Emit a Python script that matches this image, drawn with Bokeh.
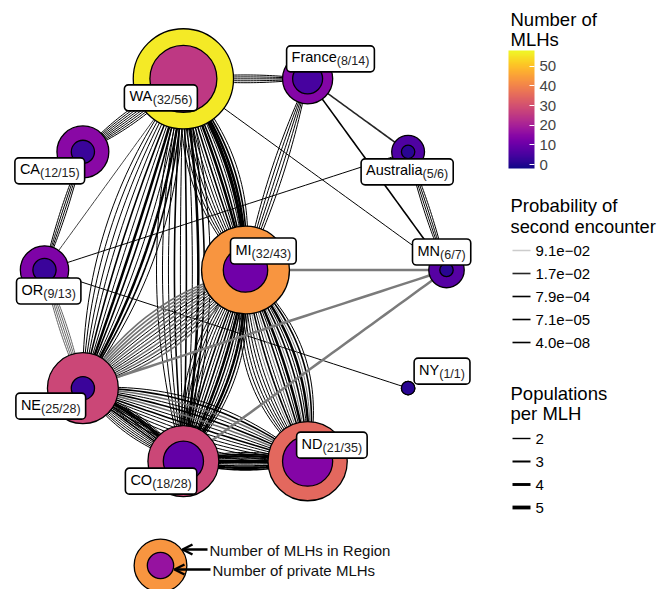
import numpy as np
from bokeh.plotting import figure
from bokeh.models import (Range1d, LinearColorMapper, ColorBar, FixedTicker,
                          Arrow, OpenHead, ColumnDataSource)
from bokeh.palettes import Plasma256
from bokeh.embed import file_html
from bokeh.resources import INLINE
from bokeh.core.properties import value

# ---------------- data ----------------
# first region is the hub, the rest sit on the ring (clockwise from east)
regions      = ["MI", "MN", "NY", "ND", "CO", "NE", "OR", "CA", "WA", "France", "Australia"]
label_shared = [32, 6, 1, 21, 18, 25, 9, 12, 32, 8, 5]
mlh_region   = [43, 7, 1, 35, 28, 28, 13, 15, 56, 14, 6]
mlh_private  = [11, 1, 1, 14, 9, 3, 3, 3, 25, 5, 1]

# edge groups: from, to, number of MLHs, populations per MLH, probability
edge_from = ["WA", "WA", "WA", "WA",
             "WA", "WA", "WA", "WA",
             "WA", "WA", "WA",
             "WA", "WA", "WA",
             "France", "France", "France", "Australia", "Australia",
             "CA", "OR", "OR",
             "MI", "MI", "MI",
             "MI", "MI", "MI", "MI",
             "NE", "NE", "NE",
             "NE", "NE", "NE",
             "CO", "CO", "CO",
             "MI", "MI", "NE", "CO", "MI"]
edge_to   = ["France", "CA", "OR", "MN",
             "MI", "MI", "MI", "MI",
             "CO", "CO", "CO",
             "NE", "NE", "NE",
             "MI", "Australia", "MN", "MN", "OR",
             "OR", "NE", "NY",
             "CO", "CO", "CO",
             "ND", "ND", "ND", "ND",
             "CO", "CO", "CO",
             "ND", "ND", "ND",
             "ND", "ND", "ND",
             "NE", "NE", "MN", "MN", "MN"]
edge_n    = [5, 8, 1, 1,
             10, 3, 2, 1,
             6, 3, 1,
             7, 3, 2,
             5, 1, 1, 4, 1,
             4, 5, 1,
             10, 4, 2,
             10, 4, 4, 2,
             8, 3, 1,
             9, 3, 2,
             3, 4, 3,
             9, 5, 1, 1, 1]
edge_pop  = [2, 2, 2, 2,
             2, 3, 4, 5,
             2, 3, 4,
             2, 3, 4,
             2, 3, 3, 2, 2,
             2, 2, 2,
             2, 3, 4,
             2, 3, 2, 4,
             2, 3, 4,
             2, 3, 3,
             2, 3, 4,
             3, 2, 4, 4, 4]
edge_prob = [7.9e-4, 7.1e-5, 3.0e-2, 7.9e-4,
             7.1e-5, 7.1e-5, 4.0e-8, 4.0e-8,
             7.1e-5, 7.1e-5, 4.0e-8,
             7.1e-5, 7.1e-5, 4.0e-8,
             7.9e-4, 1.7e-2, 7.9e-4, 7.9e-4, 7.9e-4,
             7.9e-4, 4.5e-2, 7.9e-4,
             7.1e-5, 7.1e-5, 4.0e-8,
             7.1e-5, 7.1e-5, 5.0e-2, 4.0e-8,
             7.1e-5, 7.1e-5, 4.0e-8,
             7.1e-5, 7.1e-5, 5.0e-2,
             7.1e-5, 7.1e-5, 4.0e-8,
             5.0e-2, 7.1e-5, 5.5e-2, 5.5e-2, 5.5e-2]

# legend values
cbar_ticks  = [0, 10, 20, 30, 40, 50]
prob_breaks = [9.1e-02, 1.7e-02, 7.9e-04, 7.1e-05, 4.0e-08]
prob_labels = ["9.1e\u221202", "1.7e\u221202", "7.9e\u221204", "7.1e\u221205", "4.0e\u221208"]
pop_breaks  = [2, 3, 4, 5]
key_region, key_private = 43, 17

# ---------------- layout / style ----------------
W, H = 663, 589
FONT = value("Liberation Sans")
CX, CY, RING = 245.0, 269.5, 201.0
SIZE_K = 6.7
SPREAD = 1.6
POP_W = {2: 1.0, 3: 1.6, 4: 2.5, 5: 3.4}
CB_LOW, CB_HIGH = -2, 58
CB_X, CB_TOP, CB_W, CB_H = 508, 50, 26, 118
CW = {'A': .667, 'C': .722, 'D': .722, 'E': .667, 'F': .611, 'I': .278, 'M': .833,
      'N': .722, 'O': .778, 'R': .722, 'W': .944, 'Y': .667, 'a': .556, 'c': .5,
      'e': .556, 'i': .222, 'l': .222, 'n': .556, 'r': .333, 's': .5, 't': .278,
      'u': .556, '(': .333, ')': .333, '/': .278}


def tw(s, size):
    return sum(CW.get(ch, .556) for ch in s) * size


def grey(p):
    g = int(round(255 * 0.8 * min(p / 0.091, 1.0)))
    return "#%02x%02x%02x" % (g, g, g)


mapper = LinearColorMapper(palette=Plasma256, low=CB_LOW, high=CB_HIGH)

pos = {}
for k, r in enumerate(regions):
    if k == 0:
        pos[r] = (CX, CY)
    else:
        th = 2 * np.pi * (k - 1) / (len(regions) - 1)
        pos[r] = (CX + RING * np.cos(th), CY + RING * np.sin(th))

p = figure(width=W, height=H, x_range=Range1d(0, W), y_range=Range1d(H, 0),
           output_backend="svg", toolbar_location=None,
           x_axis_location=None, y_axis_location=None, min_border=0)
p.grid.visible = False
p.outline_line_color = None
p.background_fill_color = "white"


def txt(x, y, s, size, color="black"):
    # y is the visual centre line of the text
    p.text(x=[x], y=[y], text=[s], text_font=FONT, text_font_size=size,
           text_baseline="middle", text_align="left", text_color=color)


# ---- edges (fan bundles) ----
pairs = {}
for f, t, n, pop, prob in zip(edge_from, edge_to, edge_n, edge_pop, edge_prob):
    pairs.setdefault((f, t), []).append([(pop, prob)] * n)
max_fans = max(sum(len(g) for g in gs) for gs in pairs.values())
tt = np.linspace(0, 1, 40)
xs, ys, cols, wids = [], [], [], []
for (f, t), gs in pairs.items():
    gs = [list(g) for g in gs]
    seq = []
    while any(gs):
        for g in gs:
            if g:
                seq.append(g.pop(0))
    n = len(seq)
    x0, y0 = pos[f]
    x1, y1 = pos[t]
    dx, dy = x1 - x0, y1 - y0
    L = np.hypot(dx, dy)
    ux, uy = -dy / L, dx / L
    mx, my = (x0 + x1) / 2, (y0 + y1) / 2
    for i, (pop, prob) in enumerate(seq):
        off = (i - (n - 1) / 2) * L / (max_fans * SPREAD)
        qx, qy = mx + ux * off, my + uy * off
        xs.append(list((1 - tt) ** 2 * x0 + 2 * (1 - tt) * tt * qx + tt ** 2 * x1))
        ys.append(list((1 - tt) ** 2 * y0 + 2 * (1 - tt) * tt * qy + tt ** 2 * y1))
        cols.append(grey(prob))
        wids.append(POP_W[pop])
# darker edges first, lighter (more probable) edges drawn over them
order = np.argsort([int(c[1:3], 16) for c in cols], kind="stable")
p.multi_line(xs=[xs[i] for i in order], ys=[ys[i] for i in order],
             line_color=[cols[i] for i in order], line_width=[wids[i] for i in order])

# ---- nodes ----
src = ColumnDataSource(dict(
    x=[pos[r][0] for r in regions], y=[pos[r][1] for r in regions],
    total=mlh_region, private=mlh_private,
    ro=[SIZE_K * np.sqrt(v) for v in mlh_region],
    ri=[SIZE_K * np.sqrt(v) for v in mlh_private]))
p.circle(x="x", y="y", radius="ro", source=src,
         fill_color={"field": "total", "transform": mapper}, line_color="black", line_width=1.3)
p.circle(x="x", y="y", radius="ri", source=src,
         fill_color={"field": "private", "transform": mapper}, line_color="black", line_width=1.3)

# ---- node labels ----
label_dx = {"WA": -59, "France": -21, "CA": -68, "Australia": -47, "OR": -28, "MI": -15,
            "MN": -34, "NY": 6, "NE": -67, "CO": -58, "ND": -11}
label_dy = {"WA": 6, "France": -33, "CA": 6, "Australia": 7, "OR": 8, "MI": -32,
            "MN": -31, "NY": -30, "NE": 5, "CO": 7, "ND": -29}
MAIN, SUB, PAD, BOXH = 14.5, 12.5, 5, 26
for r, a, b in zip(regions, label_shared, mlh_region):
    sub = "(%d/%d)" % (a, b)
    w = tw(r, MAIN) + tw(sub, SUB) + 2 * PAD
    left = pos[r][0] + label_dx[r]
    top = pos[r][1] + label_dy[r]
    p.quad(left=left, right=left + w, top=top, bottom=top + BOXH, fill_color="white",
           line_color="black", line_width=1.6, border_radius=4)
    txt(left + PAD, top + 11.5, r, "%.1fpx" % MAIN)
    txt(left + PAD + tw(r, MAIN), top + 15.5, sub, "%.1fpx" % SUB, "#222222")

# ---- legend: colour bar ----
txt(510, 18.5, "Number of", "18.5px")
txt(510, 39, "MLHs", "18.5px")
cb = ColorBar(color_mapper=mapper, ticker=FixedTicker(ticks=cbar_ticks), width=CB_W, height=CB_H,
              location=(CB_X, H - CB_TOP - CB_H), padding=0, margin=0, title=None,
              major_label_text_font="Liberation Sans", major_label_text_font_size="15px",
              major_tick_line_color="white", major_tick_in=5, major_tick_out=0,
              label_standoff=5, bar_line_color=None, border_line_color=None,
              background_fill_alpha=0)
p.add_layout(cb, "center")
tick_y = [CB_TOP + CB_H - (v - CB_LOW) / (CB_HIGH - CB_LOW) * CB_H for v in cbar_ticks]
p.segment(x0=[CB_X] * len(tick_y), y0=tick_y, x1=[CB_X + 5] * len(tick_y), y1=tick_y,
          line_color="white", line_width=1)
p.segment(x0=[CB_X + CB_W - 5] * len(tick_y), y0=tick_y, x1=[CB_X + CB_W] * len(tick_y), y1=tick_y,
          line_color="white", line_width=1)

# ---- legend: probability ----
txt(510, 205, "Probability of", "18.5px")
txt(510, 226, "second encounter", "18.3px")
for j, (pb, lab) in enumerate(zip(prob_breaks, prob_labels)):
    yy = 250 + 23 * j
    p.segment(x0=[512], y0=[yy], x1=[530], y1=[yy], line_color=grey(pb), line_width=1.6)
    txt(535, yy, lab, "15px")

# ---- legend: populations ----
txt(510, 393, "Populations", "18.5px")
txt(510, 413, "per MLH", "18.5px")
for j, pop in enumerate(pop_breaks):
    yy = 438 + 23 * j
    p.segment(x0=[512], y0=[yy], x1=[530], y1=[yy], line_color="black", line_width=POP_W[pop] + 0.4)
    txt(535, yy, str(pop), "15px")

# ---- key at the bottom ----
ksrc = ColumnDataSource(dict(x=[160], y=[565], total=[key_region], private=[key_private],
                             ro=[SIZE_K * np.sqrt(key_region) * 0.6],
                             ri=[SIZE_K * np.sqrt(key_region) * 0.3]))
p.circle(x="x", y="y", radius="ro", source=ksrc,
         fill_color={"field": "total", "transform": mapper}, line_color="black", line_width=1.3)
p.circle(x="x", y="y", radius="ri", source=ksrc,
         fill_color={"field": "private", "transform": mapper}, line_color="black", line_width=1.3)
p.add_layout(Arrow(end=OpenHead(size=10, line_width=2.5, line_color="black"),
                   x_start=207, y_start=549, x_end=182, y_end=549, line_width=2.5))
p.add_layout(Arrow(end=OpenHead(size=10, line_width=2.5, line_color="black"),
                   x_start=210, y_start=569, x_end=174, y_end=569, line_width=2.5))
txt(209, 550, "Number of MLHs in Region", "15px", "#111111")
txt(212, 570, "Number of private MLHs", "15px", "#111111")

open("out.html", "w").write(file_html(p, INLINE))
